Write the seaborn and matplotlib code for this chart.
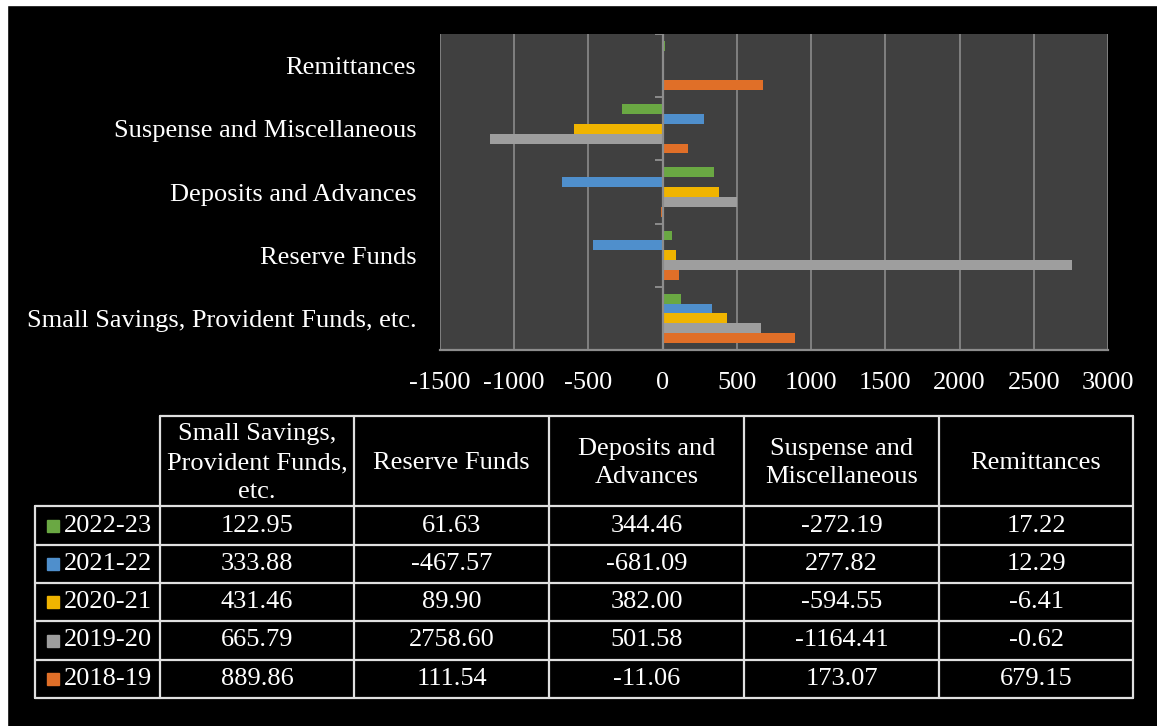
import pandas as pd
import matplotlib.pyplot as plt
import seaborn as sns
from matplotlib.patches import Rectangle

# Data (Rs crore)
categories = ["Small Savings, Provident Funds, etc.", "Reserve Funds",
              "Deposits and Advances", "Suspense and Miscellaneous", "Remittances"]
header_labels = ["Small Savings,\nProvident Funds,\netc.", "Reserve Funds",
                 "Deposits and\nAdvances", "Suspense and\nMiscellaneous", "Remittances"]
years = ["2022-23", "2021-22", "2020-21", "2019-20", "2018-19"]
v_2022_23 = [122.95, 61.63, 344.46, -272.19, 17.22]
v_2021_22 = [333.88, -467.57, -681.09, 277.82, 12.29]
v_2020_21 = [431.46, 89.90, 382.00, -594.55, -6.41]
v_2019_20 = [665.79, 2758.60, 501.58, -1164.41, -0.62]
v_2018_19 = [889.86, 111.54, -11.06, 173.07, 679.15]
values = [v_2022_23, v_2021_22, v_2020_21, v_2019_20, v_2018_19]
colors = {"2022-23": "#6aa843", "2021-22": "#4f8fcc", "2020-21": "#f0b400",
          "2019-20": "#9e9e9e", "2018-19": "#e06f28"}

rows = []
for yr, vals in zip(years, values):
    for cat, v in zip(categories, vals):
        rows.append({"Category": cat, "Year": yr, "Value": v})
df = pd.DataFrame(rows)

sns.set_style("dark")
plt.rcParams['font.family'] = ['Liberation Serif', 'DejaVu Serif']
plt.rcParams['axes.unicode_minus'] = False
FS = 19
W, H = 1157, 726

fig = plt.figure(figsize=(W / 100, H / 100), dpi=100, facecolor="black")

# chart area
x0, x1, y0, y1 = 440, 1108, 34, 350
ax = fig.add_axes([x0 / W, 1 - y1 / H, (x1 - x0) / W, (y1 - y0) / H])
sns.barplot(data=df, y="Category", x="Value", hue="Year", order=categories[::-1],
            hue_order=years, palette=colors, orient="h", width=0.78,
            saturation=1, legend=False, ax=ax, linewidth=0)
ax.set_facecolor("#404040")
ax.set_xlim(-1500, 3000)
ax.set_ylim(4.5, -0.5)
ax.set_xticks(range(-1500, 3001, 500))
ax.grid(axis="x", color="#858585", linewidth=1.3)
ax.grid(axis="y", visible=False)
ax.set_axisbelow(True)
for s in ["top", "right", "left"]:
    ax.spines[s].set_visible(False)
ax.spines["bottom"].set_color("#8c8c8c")
ax.spines["bottom"].set_linewidth(1.6)
ax.axvline(0, color="#8c8c8c", linewidth=1.6, zorder=3)
ax.hlines([-0.5, 0.5, 1.5, 2.5, 3.5], -55, 0, color="#8c8c8c", linewidth=1.4, zorder=3)
ax.tick_params(axis="x", colors="#8c8c8c", labelcolor="white", labelsize=FS,
               length=8, width=1.4, direction="out", pad=8)
ax.tick_params(axis="y", labelcolor="white", labelsize=FS, length=0, pad=17)
for t in ax.get_yticklabels():
    t.set_va("center_baseline")
ax.set_xlabel("")
ax.set_ylabel("")

# data table below the chart, drawn in pixel coordinates
tax = fig.add_axes([0, 0, 1, 1])
tax.set_xlim(0, W)
tax.set_ylim(H, 0)
tax.axis("off")
tax.patch.set_alpha(0)

tax.add_patch(Rectangle((0, 0), W, 5, color="white"))
tax.add_patch(Rectangle((0, 0), 7, H, color="white"))

col_edges = [35, 160, 354, 549, 744, 939, 1133]
row_edges = [416, 506, 545, 583, 621, 660, 698]
lc = "#e0e0e0"
tax.plot([col_edges[1], col_edges[-1]], [row_edges[0]] * 2, color=lc, lw=1.6)
for ry in row_edges[1:]:
    tax.plot([col_edges[0], col_edges[-1]], [ry, ry], color=lc, lw=1.6)
tax.plot([col_edges[0]] * 2, [row_edges[1], row_edges[-1]], color=lc, lw=1.6)
for cx in col_edges[1:]:
    tax.plot([cx, cx], [row_edges[0], row_edges[-1]], color=lc, lw=1.6)

for j, lab in enumerate(header_labels):
    cx = (col_edges[j + 1] + col_edges[j + 2]) / 2
    cy = (row_edges[0] + row_edges[1]) / 2 + 2
    tax.text(cx, cy, lab, color="white", fontsize=FS, ha="center", va="center",
             linespacing=1.4)

for i, (yr, vals) in enumerate(zip(years, values)):
    cy = (row_edges[i + 1] + row_edges[i + 2]) / 2
    tax.add_patch(Rectangle((47, cy - 6), 12, 12, color=colors[yr]))
    tax.text(64, cy, yr, color="white", fontsize=FS, ha="left", va="center")
    for j, v in enumerate(vals):
        cx = (col_edges[j + 1] + col_edges[j + 2]) / 2
        tax.text(cx, cy, f"{v:.2f}", color="white", fontsize=FS, ha="center", va="center")

fig.savefig("out.png", dpi=100, facecolor="black")
